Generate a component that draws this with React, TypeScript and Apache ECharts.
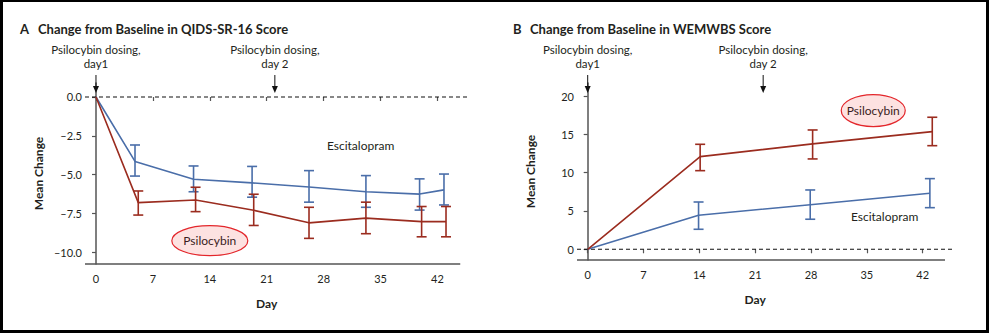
import React, { useEffect, useRef } from "react";
import * as echarts from "echarts";

// ---------- data ----------
const X_TICKS = [0, 7, 14, 21, 28, 35, 42];
const A_Y_TICKS = [0, -2.5, -5, -7.5, -10];
const B_Y_TICKS = [0, 5, 10, 15, 20];

// Panel A: QIDS-SR-16
const A_ESC_DAYS = [0, 4.8, 12.0, 19.2, 26.2, 33.2, 39.8, 42.8];
const A_ESC_MEAN = [0, -4.15, -5.3, -5.53, -5.79, -6.1, -6.25, -5.98];
const A_ESC_HIGH = [null, -3.09, -4.44, -4.47, -4.74, -5.06, -5.27, -4.96];
const A_ESC_LOW = [null, -5.09, -6.1, -6.45, -6.77, -7.1, -7.28, -6.95];

const A_PSI_DAYS = [0, 5.2, 12.25, 19.4, 26.2, 33.2, 40.05, 43.05];
const A_PSI_MEAN = [0, -6.8, -6.63, -7.29, -8.1, -7.8, -8.02, -8.02];
const A_PSI_HIGH = [null, -6.05, -5.81, -6.26, -7.1, -6.77, -7.05, -7.05];
const A_PSI_LOW = [null, -7.6, -7.38, -8.27, -9.1, -8.8, -9.0, -9.0];

// Panel B: WEMWBS
const B_ESC_DAYS = [0, 13.9, 27.9, 42.9];
const B_ESC_MEAN = [0, 4.44, 5.82, 7.31];
const B_ESC_HIGH = [null, 6.17, 7.74, 9.22];
const B_ESC_LOW = [null, 2.61, 3.92, 5.43];

const B_PSI_DAYS = [0, 14.1, 28.2, 43.2];
const B_PSI_MEAN = [0, 12.09, 13.75, 15.35];
const B_PSI_HIGH = [null, 13.7, 15.57, 17.23];
const B_PSI_LOW = [null, 10.26, 11.79, 13.52];

const DOSING_DAYS = [0, 22];
const DOSING_LINE1 = ["Psilocybin dosing,", "Psilocybin dosing,"];
const DOSING_LINE2 = ["day1", "day 2"];

// label anchors (data coords)
const A_ESC_LABEL = [28.4, -3.15];
const A_PSI_LABEL = [14.0, -9.25];
const B_ESC_LABEL = [33.0, 4.25];
const B_PSI_LABEL = [35.8, 18.1];

const TITLES = ["Change from Baseline in QIDS-SR-16 Score", "Change from Baseline in WEMWBS Score"];

// ---------- style ----------
const BLUE = "#4a6ea9";
const RED = "#9b2c1f";
const AXIS = "#555555";
const TXT = "#231f20";
const FONT = "Lato";

const A_X = { min: -1.35, max: 46.0, lineEnd: 44.8 };
const A_Y = { min: -10.75, max: 0.9 };
const B_X = { min: -1.34, max: 46.05, lineEnd: 44.8 };
const B_Y = { min: -1.4, max: 21.7 };

function pts(days: number[], vals: number[]) {
  return days.map((d, i) => [d, vals[i]]);
}
function bars(days: number[], lo: (number | null)[], hi: (number | null)[]) {
  const out: number[][] = [];
  days.forEach((d, i) => {
    if (lo[i] != null && hi[i] != null) out.push([d, lo[i] as number, hi[i] as number]);
  });
  return out;
}

function errSeries(idx: number, data: number[][], color: string) {
  return {
    type: "custom",
    xAxisIndex: idx,
    yAxisIndex: idx,
    data,
    encode: { x: 0, y: [1, 2] },
    silent: true,
    z: 4,
    renderItem: (params: any, api: any) => {
      const x = api.value(0);
      const pLo = api.coord([x, api.value(1)]);
      const pHi = api.coord([x, api.value(2)]);
      const w = 5;
      const style = { stroke: color, lineWidth: 1.6 };
      return {
        type: "group",
        children: [
          { type: "line", shape: { x1: pLo[0], y1: pLo[1], x2: pHi[0], y2: pHi[1] }, style },
          { type: "line", shape: { x1: pLo[0] - w, y1: pLo[1], x2: pLo[0] + w, y2: pLo[1] }, style },
          { type: "line", shape: { x1: pHi[0] - w, y1: pHi[1], x2: pHi[0] + w, y2: pHi[1] }, style },
        ],
      };
    },
  };
}

function lineSeries(idx: number, data: number[][], color: string) {
  return {
    type: "line",
    xAxisIndex: idx,
    yAxisIndex: idx,
    data,
    symbol: "none",
    silent: true,
    z: 3,
    lineStyle: { color, width: 1.6 },
  };
}

function refLine(idx: number, data: number[][], dashed: boolean) {
  return {
    type: "line",
    xAxisIndex: idx,
    yAxisIndex: idx,
    data,
    symbol: "none",
    silent: true,
    clip: false,
    z: 2,
    lineStyle: dashed ? { color: "#111", width: 1.2, type: [4, 3] } : { color: AXIS, width: 1.5 },
  };
}

function labelSeries(idx: number, pos: number[], text: string) {
  return {
    type: "custom",
    xAxisIndex: idx,
    yAxisIndex: idx,
    data: [pos],
    silent: true,
    z: 6,
    renderItem: (params: any, api: any) => {
      const p = api.coord([api.value(0), api.value(1)]);
      return {
        type: "text",
        style: { text, x: p[0], y: p[1], align: "left", verticalAlign: "middle", fontFamily: FONT, fontSize: 12, fill: TXT },
      };
    },
  };
}

function ellipseSeries(idx: number, pos: number[], rx: number, ry: number) {
  return {
    type: "custom",
    xAxisIndex: idx,
    yAxisIndex: idx,
    data: [pos],
    silent: true,
    z: 6,
    renderItem: (params: any, api: any) => {
      const p = api.coord([api.value(0), api.value(1)]);
      return {
        type: "group",
        children: [
          { type: "ellipse", shape: { cx: p[0], cy: p[1], rx, ry }, style: { fill: "#fde2e1", stroke: "#e3262b", lineWidth: 1.2 } },
          {
            type: "text",
            style: { text: "Psilocybin", x: p[0], y: p[1], align: "center", verticalAlign: "middle", fontFamily: FONT, fontSize: 12, fill: "#3a1c1c" },
          },
        ],
      };
    },
  };
}

function dosingSeries(idx: number, ymin: number) {
  return {
    type: "custom",
    xAxisIndex: idx,
    yAxisIndex: idx,
    data: DOSING_DAYS.map((d) => [d, ymin]),
    silent: true,
    clip: false,
    z: 6,
    renderItem: (params: any, api: any) => {
      const p = api.coord([api.value(0), api.value(1)]);
      const x = p[0];
      const i = params.dataIndex;
      const ts = { align: "center", verticalAlign: "middle", fontFamily: FONT, fontSize: 11.5, fill: TXT };
      const children: any[] = [
        { type: "text", style: { ...ts, text: DOSING_LINE1[i], x, y: 49.5 } },
        { type: "text", style: { ...ts, text: DOSING_LINE2[i], x, y: 63 } },
        { type: "line", shape: { x1: x, y1: 75, x2: x, y2: 87 }, style: { stroke: "#111", lineWidth: 1 } },
        { type: "polygon", shape: { points: [[x - 3, 86], [x + 3, 86], [x, 93]] }, style: { fill: "#111" } },
      ];
      if (i === 0) {
        const dayP = api.coord([21, ymin]);
        children.push({
          type: "text",
          style: { text: "Day", x: dayP[0], y: dayP[1] + 39, align: "center", verticalAlign: "middle", fontFamily: FONT, fontSize: 12, fontWeight: "bold", fill: TXT },
        });
      }
      return { type: "group", children };
    },
  };
}

function xAxis(idx: number, r: { min: number; max: number }) {
  return {
    type: "value",
    gridIndex: idx,
    min: r.min,
    max: r.max,
    axisLine: { show: false },
    splitLine: { show: false },
    axisTick: { show: true, customValues: X_TICKS, length: 4, lineStyle: { color: AXIS, width: 1.2 } },
    axisLabel: { customValues: X_TICKS, margin: 9, fontFamily: FONT, fontSize: 11, color: TXT },
  };
}

function yAxis(idx: number, r: { min: number; max: number }, ticks: number[], fmt: (v: number) => string, gap: number) {
  return {
    type: "value",
    gridIndex: idx,
    min: r.min,
    max: r.max,
    name: "Mean Change",
    nameLocation: "middle",
    nameRotate: 90,
    nameGap: gap,
    nameTextStyle: { fontFamily: FONT, fontSize: 12, fontWeight: "bold", color: TXT },
    axisLine: { show: true, lineStyle: { color: AXIS, width: 1.5 } },
    splitLine: { show: false },
    axisTick: { show: true, customValues: ticks, length: 4, lineStyle: { color: AXIS, width: 1.2 } },
    axisLabel: { customValues: ticks, margin: 3, fontFamily: FONT, fontSize: 11, color: TXT, formatter: fmt },
  };
}

export default function App() {
  const ref = useRef<HTMLDivElement>(null);
  useEffect(() => {
    document.body.style.margin = "0";
    const chart = echarts.init(ref.current!, undefined, { renderer: "svg" });
    const option: any = {
      animation: false,
      backgroundColor: "#ffffff",
      grid: [
        { left: 85, top: 83, width: 385, height: 181 },
        { left: 577, top: 83, width: 378, height: 177 },
      ],
      xAxis: [xAxis(0, A_X), xAxis(1, B_X)],
      yAxis: [
        yAxis(0, A_Y, A_Y_TICKS, (v) => (v === 0 ? "0.0" : "\u2013" + Math.abs(v).toFixed(1)), 41),
        yAxis(1, B_Y, B_Y_TICKS, (v) => String(v), 41),
      ],
      graphic: [
        { type: "text", left: 20, top: 22, style: { text: "A", fontFamily: FONT, fontSize: 13, fontWeight: "bold", fill: TXT } },
        { type: "text", left: 38, top: 22, style: { text: TITLES[0], fontFamily: FONT, fontSize: 13, fontWeight: "bold", fill: TXT } },
        { type: "text", left: 513, top: 22, style: { text: "B", fontFamily: FONT, fontSize: 13, fontWeight: "bold", fill: TXT } },
        { type: "text", left: 530, top: 22, style: { text: TITLES[1], fontFamily: FONT, fontSize: 13, fontWeight: "bold", fill: TXT } },
      ],
      series: [
        refLine(0, [[A_X.min, 0], [A_X.max, 0]], true),
        refLine(0, [[A_X.min, A_Y.min], [A_X.lineEnd, A_Y.min]], false),
        lineSeries(0, pts(A_ESC_DAYS, A_ESC_MEAN), BLUE),
        lineSeries(0, pts(A_PSI_DAYS, A_PSI_MEAN), RED),
        errSeries(0, bars(A_ESC_DAYS, A_ESC_LOW, A_ESC_HIGH), BLUE),
        errSeries(0, bars(A_PSI_DAYS, A_PSI_LOW, A_PSI_HIGH), RED),
        labelSeries(0, A_ESC_LABEL, "Escitalopram"),
        ellipseSeries(0, A_PSI_LABEL, 38, 15),
        dosingSeries(0, A_Y.min),

        refLine(1, [[B_X.min, 0], [B_X.max, 0]], true),
        refLine(1, [[B_X.min, B_Y.min], [B_X.lineEnd, B_Y.min]], false),
        lineSeries(1, pts(B_ESC_DAYS, B_ESC_MEAN), BLUE),
        lineSeries(1, pts(B_PSI_DAYS, B_PSI_MEAN), RED),
        errSeries(1, bars(B_ESC_DAYS, B_ESC_LOW, B_ESC_HIGH), BLUE),
        errSeries(1, bars(B_PSI_DAYS, B_PSI_LOW, B_PSI_HIGH), RED),
        labelSeries(1, B_ESC_LABEL, "Escitalopram"),
        ellipseSeries(1, B_PSI_LABEL, 32, 16),
        dosingSeries(1, B_Y.min),
      ],
    };
    chart.setOption(option);
    return () => chart.dispose();
  }, []);
  return (
    <div style={{ position: "relative", width: 989, height: 333, background: "#fff" }}>
      <div ref={ref} style={{ position: "absolute", left: 0, top: 0, width: 989, height: 333 }} />
      <div
        style={{
          position: "absolute",
          left: 0,
          top: 0,
          width: 989,
          height: 333,
          boxSizing: "border-box",
          borderStyle: "solid",
          borderColor: "#000",
          borderWidth: "2px 3px 3px 3px",
          pointerEvents: "none",
        }}
      />
    </div>
  );
}
